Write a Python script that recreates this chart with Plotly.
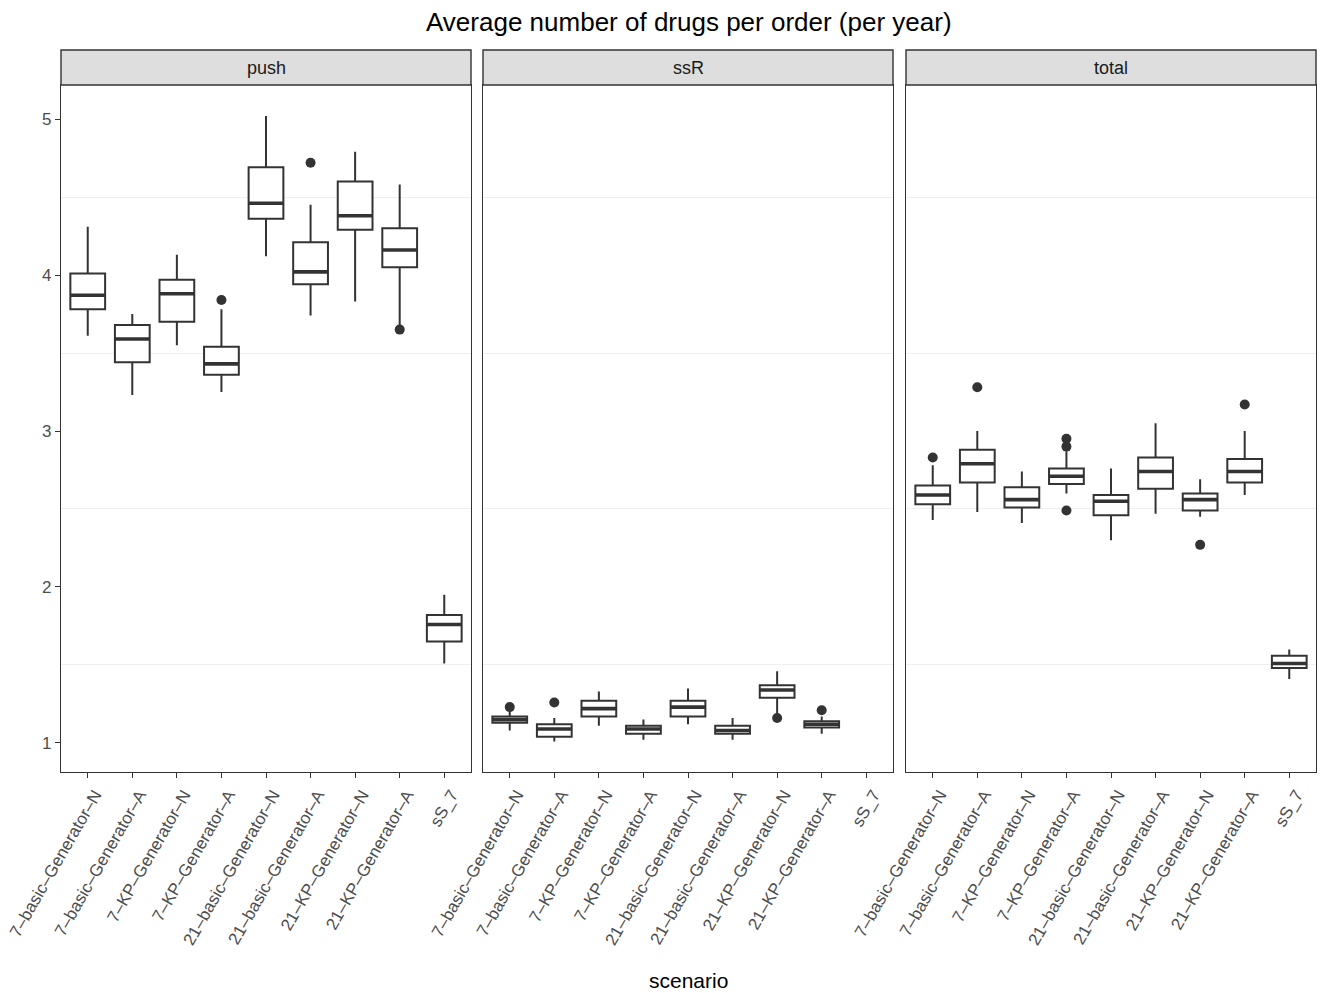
import plotly.graph_objects as go

W, H = 1321, 993

scenarios = ["7-basic-Generator-N", "7-basic-Generator-A", "7-KP-Generator-N", "7-KP-Generator-A",
             "21-basic-Generator-N", "21-basic-Generator-A", "21-KP-Generator-N", "21-KP-Generator-A", "sS_7"]
panels = ["push", "ssR", "total"]

# push
push_low = [3.61, 3.23, 3.55, 3.25, 4.12, 3.74, 3.83, 3.67, 1.51]
push_q1 = [3.78, 3.44, 3.70, 3.36, 4.36, 3.94, 4.29, 4.05, 1.65]
push_med = [3.87, 3.59, 3.88, 3.43, 4.46, 4.02, 4.38, 4.16, 1.76]
push_q3 = [4.01, 3.68, 3.97, 3.54, 4.69, 4.21, 4.60, 4.30, 1.82]
push_up = [4.31, 3.75, 4.13, 3.78, 5.02, 4.45, 4.79, 4.58, 1.95]
push_out_cat = ["7-KP-Generator-A", "21-basic-Generator-A", "21-KP-Generator-A"]
push_out_val = [3.84, 4.72, 3.65]

# ssR (no sS_7 values)
ssr_low = [1.08, 1.01, 1.11, 1.02, 1.12, 1.02, 1.17, 1.06]
ssr_q1 = [1.13, 1.04, 1.17, 1.06, 1.17, 1.06, 1.29, 1.10]
ssr_med = [1.15, 1.09, 1.22, 1.09, 1.23, 1.08, 1.34, 1.12]
ssr_q3 = [1.17, 1.12, 1.27, 1.11, 1.27, 1.11, 1.37, 1.14]
ssr_up = [1.20, 1.16, 1.33, 1.15, 1.35, 1.16, 1.46, 1.17]
ssr_out_cat = ["7-basic-Generator-N", "7-basic-Generator-A", "21-KP-Generator-N", "21-KP-Generator-A"]
ssr_out_val = [1.23, 1.26, 1.16, 1.21]

# total
tot_low = [2.43, 2.48, 2.41, 2.60, 2.30, 2.47, 2.45, 2.59, 1.41]
tot_q1 = [2.53, 2.67, 2.51, 2.66, 2.46, 2.63, 2.49, 2.67, 1.48]
tot_med = [2.59, 2.79, 2.56, 2.71, 2.55, 2.74, 2.56, 2.74, 1.51]
tot_q3 = [2.65, 2.88, 2.64, 2.76, 2.59, 2.83, 2.60, 2.82, 1.56]
tot_up = [2.78, 3.00, 2.74, 2.87, 2.76, 3.05, 2.69, 3.00, 1.60]
tot_out_cat = ["7-basic-Generator-N", "7-basic-Generator-A", "7-KP-Generator-A", "7-KP-Generator-A",
               "7-KP-Generator-A", "21-KP-Generator-N", "21-KP-Generator-A"]
tot_out_val = [2.83, 3.28, 2.95, 2.90, 2.49, 2.27, 3.17]

y_ticks = [1, 2, 3, 4, 5]
y_minor = [1.5, 2.5, 3.5, 4.5]

data = {
    "push": (push_low, push_q1, push_med, push_q3, push_up, push_out_cat, push_out_val),
    "ssR": (ssr_low, ssr_q1, ssr_med, ssr_q3, ssr_up, ssr_out_cat, ssr_out_val),
    "total": (tot_low, tot_q1, tot_med, tot_q3, tot_up, tot_out_cat, tot_out_val),
}

DARK = "#333333"
FONT = "Liberation Sans, Arial, sans-serif"

panel_px = [(61, 471), (483, 893), (906, 1316)]
plot_top, plot_bot = 85, 772
strip_top = 50
ydom = [(H - plot_bot) / H, (H - plot_top) / H]

fig = go.Figure()
layout = dict(
    width=W, height=H, margin=dict(l=0, r=0, t=0, b=0, autoexpand=False),
    paper_bgcolor="white", plot_bgcolor="white", showlegend=False,
    font=dict(family=FONT, color="#4d4d4d"), boxmode="overlay",
)
shapes, annotations = [], []

pos = {s: i for i, s in enumerate(scenarios)}
tick_text = [s.replace("-", "\u2013") for s in scenarios]
BW = 0.78

for k, name in enumerate(panels):
    low, q1, med, q3, up, ocat, oval = data[name]
    n = len(med)
    xs = [pos[s] for s in scenarios[:n]]
    sfx = "" if k == 0 else str(k + 1)
    xa, ya = "x" + sfx, "y" + sfx
    fig.add_trace(go.Box(
        x=xs, q1=q1, median=med, q3=q3, lowerfence=low, upperfence=up,
        width=BW, whiskerwidth=0, boxpoints=False, fillcolor="white",
        line=dict(color=DARK, width=2), xaxis=xa, yaxis=ya, hoverinfo="skip",
    ))
    # thicker median line
    fig.add_trace(go.Box(
        x=xs, q1=med, median=med, q3=med, lowerfence=med, upperfence=med,
        width=BW, whiskerwidth=0, boxpoints=False, fillcolor="rgba(0,0,0,0)",
        line=dict(color=DARK, width=3.6), xaxis=xa, yaxis=ya, hoverinfo="skip",
    ))
    fig.add_trace(go.Scatter(
        x=[pos[c] for c in ocat], y=oval, mode="markers",
        marker=dict(color=DARK, size=10), xaxis=xa, yaxis=ya, hoverinfo="skip",
    ))
    x0, x1 = panel_px[k]
    dom = [x0 / W, x1 / W]
    layout["xaxis" + sfx] = dict(
        domain=dom, anchor=ya, range=[-0.6, len(scenarios) - 1 + 0.6], automargin=False,
        tickmode="array", tickvals=list(range(len(scenarios))), ticktext=tick_text,
        tickangle=-60, ticks="outside", ticklen=5, tickwidth=1.4, tickcolor=DARK,
        ticklabelshift=7, ticklabelstandoff=0,
        tickfont=dict(size=17, color="#4d4d4d", family=FONT),
        showgrid=False, zeroline=False, showline=True, linecolor=DARK, linewidth=1.4, mirror=True,
    )
    yax = dict(
        domain=ydom, anchor=xa, range=[0.814, 5.218], automargin=False,
        tickmode="array", tickvals=y_ticks, showgrid=False, zeroline=False,
        minor=dict(tickvals=y_minor, showgrid=True, gridcolor="#efefef", gridwidth=1, ticks=""),
        showline=True, linecolor=DARK, linewidth=1.4, mirror=True,
    )
    if k == 0:
        yax.update(ticks="outside", ticklen=5, tickwidth=1.4, tickcolor=DARK,
                   tickfont=dict(size=17, color="#4d4d4d", family=FONT))
    else:
        yax.update(showticklabels=False, ticks="", matches="y")
    layout["yaxis" + sfx] = yax
    # strip
    shapes.append(dict(type="rect", xref="paper", yref="paper",
                       x0=dom[0], x1=dom[1], y0=(H - plot_top) / H, y1=(H - strip_top) / H,
                       fillcolor="#dedede", line=dict(color=DARK, width=1.4), layer="above"))
    annotations.append(dict(text=name, xref="paper", yref="paper", x=(dom[0] + dom[1]) / 2,
                            y=(H - (plot_top + strip_top) / 2) / H, showarrow=False,
                            xanchor="center", yanchor="middle",
                            font=dict(size=18, color="#1a1a1a", family=FONT)))

annotations.append(dict(text="Average number of drugs per order (per year)", xref="paper", yref="paper",
                        x=688.5 / W, y=1 - 22 / H, showarrow=False, xanchor="center", yanchor="middle",
                        font=dict(size=26, color="black", family=FONT)))
annotations.append(dict(text="scenario", xref="paper", yref="paper",
                        x=688.5 / W, y=1 - 980 / H, showarrow=False, xanchor="center", yanchor="middle",
                        font=dict(size=21, color="black", family=FONT)))

layout["shapes"] = shapes
layout["annotations"] = annotations
fig.update_layout(**layout)
fig.write_html("out.html")
